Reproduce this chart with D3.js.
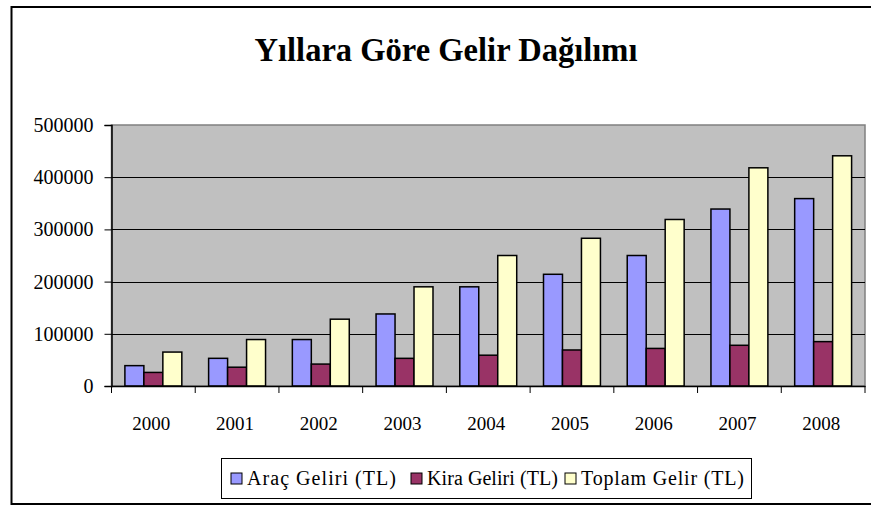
<!DOCTYPE html>
<html>
<head>
<meta charset="utf-8">
<script src="https://cdn.jsdelivr.net/npm/d3@7"></script>
<style>
  body { margin: 0; background: #fff; }
  text { font-family: "Liberation Serif", "Times New Roman", serif; fill: #000; }
</style>
</head>
<body>
<div id="chart"></div>
<script>
// data
const years = ["2000", "2001", "2002", "2003", "2004", "2005", "2006", "2007", "2008"];
const seriesNames = ["Araç Geliri (TL)", "Kira Geliri (TL)", "Toplam Gelir (TL)"];
const aracGeliri = [39000, 53000, 89000, 138000, 190000, 214000, 250000, 339000, 359000];
const kiraGeliri = [26000, 36000, 42000, 53000, 59000, 69000, 72000, 78000, 85000];
const toplamGelir = [65000, 89000, 128000, 190000, 250000, 283000, 319000, 418000, 441000];
const yTicks = [0, 100000, 200000, 300000, 400000, 500000];
const colors = ["#9999ff", "#993366", "#ffffcc"];

const w = 871, h = 507;
const plot = {left: 111.5, right: 865, top: 125, bottom: 386};

const svg = d3.select("#chart")
  .append("svg")
    .attr("width", w)
    .attr("height", h);

// outer chart border
svg.append("rect")
    .attr("x", 11.5)
    .attr("y", 7)
    .attr("width", 870)
    .attr("height", 497)
    .attr("fill", "#fff")
    .attr("stroke", "#000")
    .attr("stroke-width", 2);

svg.append("text")
    .attr("x", 446)
    .attr("y", 61)
    .attr("text-anchor", "middle")
    .attr("font-size", 33)
    .attr("font-weight", "bold")
    .attr("textLength", 383)
    .attr("lengthAdjust", "spacingAndGlyphs")
    .text("Yıllara Göre Gelir Dağılımı");

const x0 = d3.scaleBand()
    .domain(years)
    .range([plot.left, plot.right]);

const x1 = d3.scaleBand()
    .domain(seriesNames)
    .range([x0.bandwidth() * 0.16, x0.bandwidth() * 0.84]);

const y = d3.scaleLinear()
    .domain([0, 500000])
    .range([plot.bottom, plot.top]);

// plot area
svg.append("rect")
    .attr("x", plot.left)
    .attr("y", plot.top)
    .attr("width", plot.right - plot.left)
    .attr("height", plot.bottom - plot.top)
    .attr("fill", "#c0c0c0")
    .attr("stroke", "#808080")
    .attr("stroke-width", 1.5);

// gridlines
svg.append("g")
  .selectAll("line")
  .data(yTicks.slice(1, -1))
  .enter().append("line")
    .attr("x1", plot.left)
    .attr("x2", plot.right)
    .attr("y1", d => Math.round(y(d)) + 0.5)
    .attr("y2", d => Math.round(y(d)) + 0.5)
    .attr("stroke", "#000")
    .attr("stroke-width", 1);

// bars
const rows = years.map((yr, i) => ({year: yr, vals: [aracGeliri[i], kiraGeliri[i], toplamGelir[i]]}));

svg.append("g")
  .selectAll("g")
  .data(rows)
  .enter().append("g")
    .attr("transform", d => `translate(${x0(d.year)},0)`)
  .selectAll("rect")
  .data(d => d.vals.map((v, k) => ({name: seriesNames[k], v: v, k: k})))
  .enter().append("rect")
    .attr("x", d => x1(d.name))
    .attr("y", d => y(d.v))
    .attr("width", x1.bandwidth())
    .attr("height", d => y(0) - y(d.v))
    .attr("fill", d => colors[d.k])
    .attr("stroke", "#000")
    .attr("stroke-width", 1.5);

// axes
const yAxis = d3.axisLeft(y)
    .tickValues(yTicks)
    .tickFormat(d3.format("d"))
    .tickSize(7)
    .tickPadding(11);

svg.append("g")
    .attr("class", "yAxis")
    .attr("transform", `translate(${plot.left},0)`)
    .call(yAxis)
    .call(g => g.select(".domain").attr("stroke", "#000").attr("stroke-width", 1.5))
    .call(g => g.selectAll("text").attr("font-size", 20));

const xAxis = d3.axisBottom(x0)
    .tickSize(0)
    .tickPadding(31);

svg.append("g")
    .attr("class", "xAxis")
    .attr("transform", `translate(0,${plot.bottom})`)
    .call(xAxis)
    .call(g => g.select(".domain").attr("stroke", "#000").attr("stroke-width", 1.5))
    .call(g => g.selectAll("text").attr("font-size", 19).attr("dx", -2));

// x tick marks at category boundaries
svg.append("g")
  .selectAll("line")
  .data(years.map(d => x0(d)).concat([plot.right]))
  .enter().append("line")
    .attr("x1", d => d)
    .attr("x2", d => d)
    .attr("y1", plot.bottom)
    .attr("y2", plot.bottom + 7)
    .attr("stroke", "#000")
    .attr("stroke-width", 1);

// legend
const legend = svg.append("g");
legend.append("rect")
    .attr("x", 221.5)
    .attr("y", 458.5)
    .attr("width", 530)
    .attr("height", 40)
    .attr("fill", "#fff")
    .attr("stroke", "#000")
    .attr("stroke-width", 1);

const legendX = [231, 411, 565];
const legendTextW = [149, 131, 163];
const item = legend.selectAll("g.item")
  .data(seriesNames)
  .enter().append("g")
    .attr("class", "item")
    .attr("transform", (d, i) => `translate(${legendX[i]},473)`);

item.append("rect")
    .attr("width", 11)
    .attr("height", 11)
    .attr("fill", (d, i) => colors[i])
    .attr("stroke", "#000")
    .attr("stroke-width", 1);

item.append("text")
    .attr("x", 16)
    .attr("y", 12)
    .attr("font-size", 20)
    .attr("textLength", (d, i) => legendTextW[i])
    .attr("lengthAdjust", "spacing")
    .text(d => d);
</script>
</body>
</html>
